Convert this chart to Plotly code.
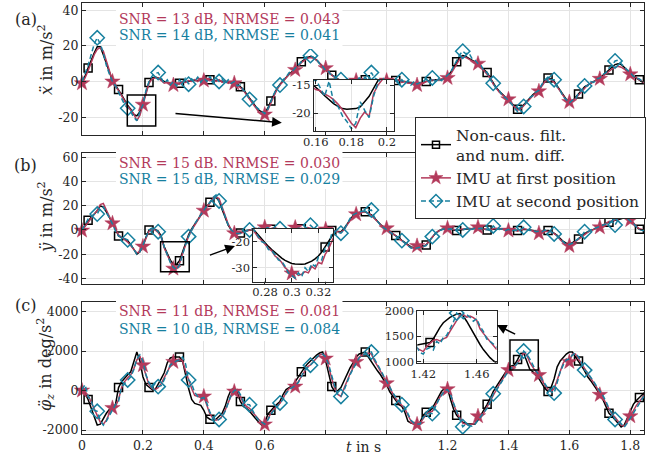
import plotly.graph_objects as go

# ---------------- data ----------------
t = [round(i * 0.01, 2) for i in range(186)]

black_a = [0, 3, 7.5, 12, 16, 19.5, 19.5, 15, 10, 5,
           0.5, -2, -4.5, -7.5, -10.5, -13.5, -15.5, -18.5, -19.3, -17,
           -12, -6, -0.5, 2, 2.5, 2, 1, 0, -0.5, -1,
           -1.5, -1.5, -1, -0.5, 0, 0, 0.5, 0.5, 0.5, 1,
           1, 1, 1, 1, 0.5, 0.5, 0, 0, -0.5, -0.5,
           -0.5, -1.5, -3, -4.5, -7, -9.5, -12, -14, -16, -17,
           -17.5, -15, -11, -7, -4, -1.5, 0.5, 2.5, 4, 5.5,
           7, 9, 11, 12.5, 13.5, 14, 13.5, 12, 10, 8,
           6.5, 5, 3.5, 2.5, 1.5, 0.5, 0, 0, 0.5, 0.5,
           0.5, 0.5, 1, 1, 1, 0.5, 0.5, 0, 0, 0,
           0, 0, 0.5, 0.5, 0.5, 0, 0, -0.5, -0.5, -1,
           -1, -1, -0.5, 0, 0.5, 0.5, 1, 1, 1, 1.5,
           3, 5, 8, 11, 13.5, 14.5, 14, 13, 12, 11,
           9.5, 8, 6.5, 5, 2, -1, -3.5, -5.5, -7, -8.5,
           -10, -12, -14, -15.5, -15, -13, -11, -9, -7.5, -6,
           -4.5, -2, 0.5, 2, 1.5, 0, -2.5, -5, -7.5, -10,
           -11, -11, -9, -7, -5, -3, -2, -1, 0, 1,
           2, 3.5, 5, 6.5, 8, 9.5, 10, 9.5, 8, 6,
           4, 3, 2, 1, 0, -1.5]
red_a = [-1, 2, 6, 11, 15, 18, 19, 17, 12, 6,
         0, -3, -5, -8, -11, -14, -16, -18, -22, -19,
         -13, -7, -1, 1.5, 2, 2, 0.5, -1, -0.5, -1.5,
         -2, -1, -1.5, 0, -0.5, 0.5, 0, 1, 0, 1.5,
         0.5, 1.5, 0.5, 1, 0, 1, -0.5, 0.5, -1, 0,
         -1, -2, -3.5, -5, -7.5, -10, -12.5, -15, -17, -18,
         -18.5, -16, -12, -8, -4.5, -2, 0, 2, 4, 5,
         6.5, 8.5, 10.5, 12, 13, 13.5, 13, 12, 10.5, 9,
         7.5, 5.5, 3.5, 2, 1, 0, -0.5, 0, 0.5, 0,
         0.5, 1, 0.5, 1.5, 0.5, 1, 0, 0.5, -0.5, 0,
         0.5, -0.5, 0.5, 0, 1, -0.5, 0, -1, -1, -1.5,
         -2, -1, -1, 0, 0, 1, 0.5, 1, 1.5, 1,
         2, 4, 7, 10, 12.5, 14, 13.5, 12.5, 11.5, 10.5,
         10, 8, 6, 4.5, 2, -1.5, -4, -6, -7.5, -9,
         -10, -12.5, -14.5, -16, -15.5, -13.5, -11.5, -9.5, -8, -6.5,
         -5.5, -2.5, 0, 1.5, 1, -0.5, -3, -5.5, -8, -10.5,
         -11.5, -11, -9.5, -7.5, -5.5, -3.5, -2, -1, 0, 1,
         1.5, 3, 4.5, 6, 7, 8, 8.5, 8, 7, 5.5,
         4, 3, 2, 1, 0, -1.5]
teal_a = [0, 4, 9, 15, 21, 24.5, 21, 16, 9, 4,
          0, -2.5, -6, -10, -13, -15, -17, -20, -22, -17,
          -13, -5, 0, 3, 4.5, 5, 2, -1, 1, -2,
          0, -2.5, 1, -1, 2, -1.5, 1.5, 0, 2.5, -0.5,
          2, 0, 3, -1, 2, 0, 1.5, -1.5, 1, -1,
          0, -2.5, -2, -5, -6, -10, -11, -14, -15.5, -17,
          -18, -15.5, -11, -7, -3.5, -2, 1, 2.5, 5, 5.5,
          7.5, 9, 11, 13, 14, 14.5, 13.5, 12.5, 10, 8.5,
          6, 5.5, 3, 3, 1, 1, 0, 1.5, -0.5, 1,
          0, 2, 0.5, 2.5, 0, 5, 2, 1, -0.5, 1.5,
          -1, 1.5, 0, 2, -1, 1, -1, 0.5, -2, 0,
          -1.5, -0.5, 0, 1.5, -0.5, 2, 0, 1.5, 0.5, 2,
          3, 5, 8.5, 12, 15, 17, 15.5, 16, 13, 12,
          10, 9, 6, 5, 1, -1, -4, -5, -8, -9,
          -10.5, -12.5, -15, -17, -14, -14, -11, -9, -8, -6,
          -5, -1.5, 1, 2.5, 1, 1, -3, -5, -8.5, -10,
          -12, -10.5, -10, -6.5, -5, -2.5, -2.5, 0, -0.5, 1.5,
          2, 4, 5, 7.5, 9, 11.5, 12, 10, 8, 6.5,
          5, 3, 2, 1.5, 0, -1]

black_b = [0, 3.5, 8, 10.5, 13, 16, 20, 19, 15, 10.5,
           6, 1, -5, -6.5, -7.5, -9, -12, -16, -20, -18,
           -13, -6, 0, 1, 0.5, -1, -5, -14, -20, -25,
           -28.4, -28.6, -25.5, -18, -10, -4, 1, 5, 9, 12.5,
           16, 19.5, 23, 26, 27, 24, 17, 10, 4, 0,
           -2, -3, -2.5, -1.5, -0.5, 0, 0.5, 0.5, 1, 1,
           1, 1, 0.5, 0.5, 0.5, 0.5, 0, 0, 0, 0.5,
           0.5, 0.5, 1, 1, 1, 1, 1, 0.5, 0.5, 0.5,
           0, 0, -0.5, -1, -1, -1.5, 1, 5, 9, 12,
           13.5, 14.5, 15, 15, 14, 12.5, 10, 7, 4.5, 2.5,
           1, -1, -3, -4.5, -6.5, -8.5, -10.5, -12.5, -14, -14.5,
           -14.5, -14, -13.5, -12.5, -9, -5.5, -3, -1, 0.5, 1,
           1, 0.5, 0, -0.5, 0, 0.5, 0.5, 1, 1, 1.5,
           1.5, 1, 0.5, 0, 0, 0.5, 1, 1, 0.5, 0,
           0, -0.5, -0.5, -0.5, 0, 0.5, 0.5, 0, -0.5, -1,
           -1.5, -1, -0.5, -0.5, -1, -2.5, -4.5, -7, -9.5, -11,
           -11.5, -10.5, -9, -7.5, -5, -3, -1.5, -0.5, 0.5, 1.5,
           2.5, 4, 5.5, 6.5, 7, 8, 8.5, 9.5, 10, 9.5,
           8, 5.5, 2.5, 0.5, 0, -0.5]
red_b = [-0.5, 3, 7, 10, 13, 16, 21, 22, 17, 11,
         5.5, 0, -4, -6, -8, -10, -13, -16, -19, -18,
         -13.7, -7, -1, 0.5, 0, -2, -6, -15, -21, -27,
         -32, -32, -28, -20, -12, -5, 0, 4, 9, 12,
         16, 19, 22.5, 26, 27.5, 26, 19, 11, 5, 0,
         -2.7, -3.5, -3, -2, -1, 0, 1, 1.5, 1, 1.5,
         2.2, 1.5, 1, 2, 1, 0.5, 1, 0, 0.5, 1,
         2, 1, 1.5, 1, 2, 1.5, 1, 0.5, 1, 0,
         0.5, -0.5, 0, -1, -1.5, -2, 0, 4, 8, 11,
         13, 14, 15.5, 15, 14, 12, 9.5, 6.5, 4, 2,
         1.4, -1, -3, -5, -7, -9, -11, -13, -14.5, -15,
         -13.2, -14, -14, -12, -9, -6, -3, -1, 0.5, 1.5,
         1.4, 1, 0, 0, 0.5, 1, 1, 1.5, 1, 2,
         2.2, 1.5, 0.5, 0.5, 0, 1, 1.5, 1, 0.5, 0,
         -0.5, -0.5, 0, -1, 0, 1, 0.5, 0, -1, -1.5,
         -2.7, -1.5, -1, -1, -1.5, -3, -5, -8, -10.5, -12,
         -13.2, -11.5, -9.5, -8, -5.5, -3.5, -2, -0.5, 0.5, 1.5,
         2.2, 4, 5.5, 7, 7.5, 8.5, 9, 10, 10.5, 9.5,
         8.2, 6, 3, 1, 0, -0.5]
teal_b = [0, 4, 9, 11, 13, 13.2, 18, 19, 15, 10,
          5, -1, -5, -6, -7, -8.2, -12, -16, -20, -18,
          -13, -6, 0, 1.5, 1, -1.4, -6, -14, -21, -27,
          -31, -33, -29, -20, -12, -5.5, 0, 5, 9, 13,
          17, 20, 23, 27, 29, 24, 18, 11, 4, 0,
          -2, -3, -3, -1.5, -0.5, 0, 1, 0, 1.5, 0.5,
          1, 2, 0, 1, 0.5, 1, 0, 1, -0.5, 1,
          0.5, 1.5, 1, 0.5, 2, 4, 1.5, 1, 0, 1,
          0, 0.5, -1, -1, -2, -2.7, 0, 5, 9.5, 12.5,
          14, 15, 15.5, 16, 16.5, 16.5, 10.5, 7, 4, 2,
          0.5, -1.5, -3.5, -5, -7, -8.8, -11, -13, -15, -15.5,
          -15, -14.5, -14, -13, -9, -5.5, -3, -1, 0, 1,
          0.5, 1, 0, -0.5, 0.5, 0, 1, 1.5, 0.5, 1.5,
          1, 1.5, 0, 0.5, -0.5, 3.3, 1, 0.5, 1, -0.5,
          0.5, -1, 0, -0.5, 0.5, 2.2, 0.5, -0.5, 0, -1.5,
          -1, -1.5, 0, -1, -1.5, -3.3, -5, -7.5, -10, -12,
          -12, -11, -9, -7, -5, -1.4, -1.5, 0, 1, 2,
          2.5, 4, 5, 6.5, 7, 4.1, 8.5, 10, 10.5, 9.5,
          7.5, 5.5, 2.5, 0.5, -0.5, -0.5]

black_c = [0, -150, -450, -900, -1400, -1750, -1700, -1400, -1150, -950,
           -900, -700, 150, 450, 650, 800, 950, 1500, 1950, 1500,
           700, 300, 150, 50, 50, 300, 600, 900, 1400, 1650,
           1700, 1700, 1700, 1500, 700, 100, -450, -650, -700, -750,
           -1000, -1350, -1450, -1500, -1450, -1300, -1150, -800, -300, 50,
           100, -100, -550, -800, -900, -1050, -1250, -1400, -1600, -1750,
           -1650, -1200, -1000, -850, -700, -550, -200, 50, 150, 250,
           450, 700, 950, 1150, 1350, 1500, 1700, 1800, 1900, 1950,
           1500, 900, 200, -50, 0, 150, 500, 850, 1150, 1400,
           1700, 1850, 1900, 1950, 1700, 1450, 1250, 1000, 800, 550,
           300, -50, -300, -500, -700, -800, -1100, -1550, -1650, -1700,
           -1720, -1600, -1250, -1100, -1050, -900, -600, -300, -50, 100,
           100, -450, -950, -1250, -1450, -1600, -1650, -1700, -1700, -1700,
           -1500, -1250, -950, -700, -400, -50, 200, 450, 700, 950,
           1150, 1250, 1300, 1570, 1875, 1900, 1450, 1080, 950, 800,
           600, 350, 100, -50, 150, 600, 1200, 1500, 1700, 1850,
           1950, 1950, 1700, 1500, 1250, 1000, 700, 500, 300, 50,
           -200, -450, -800, -1150, -1300, -1450, -1650, -1850, -1750, -1400,
           -1000, -700, -500, -350, -150, -50]
red_c = [0, -50, -250, -600, -950, -1250, -1600, -1700, -1500, -1150,
         -880, -800, -450, 150, 450, 650, 800, 1100, 1550, 1750,
         1285, 700, 300, 100, 50, 150, 350, 650, 950, 1250,
         1450, 1550, 1600, 1500, 1000, 500, 100, -250, -300, -350,
         -300, -700, -1200, -1400, -1500, -1450, -1300, -1000, -600, -250,
         -50, 50, -300, -650, -800, -900, -1100, -1300, -1450, -1600,
         -1715, -1450, -1150, -950, -800, -650, -400, -100, 100, 200,
         200, 450, 750, 950, 1200, 1300, 1500, 1650, 1800, 1850,
         1620, 1200, 600, 100, -200, -300, 100, 500, 850, 1150,
         1450, 1700, 1800, 1850, 1900, 1850, 1500, 1250, 1000, 700,
         370, 100, -150, -400, -600, -750, -900, -1250, -1550, -1700,
         -1715, -1650, -1400, -1200, -1100, -1050, -750, -450, -200, -50,
         70, -150, -700, -1100, -1400, -1650, -1700, -1750, -1700, -1650,
         -1300, -1350, -1100, -850, -550, -250, 50, 300, 550, 800,
         1035, 1200, 1200, 1420, 1600, 1930, 1820, 1420, 1150, 950,
         785, 500, 250, 50, -50, 100, 500, 1000, 1400, 1600,
         1450, 1850, 1850, 1600, 1350, 1100, 850, 650, 400, 150,
         -215, -350, -650, -950, -1200, -1350, -1550, -1750, -1800, -1600,
         -1300, -1000, -750, -550, -350, -150]
teal_c = [50, 300, -300, -500, -1000, -1050, -1500, -1750, -1550, -1250,
          -1000, -700, -550, 200, 350, 535, 700, 1050, 1600, 1800,
          1500, 800, 400, 150, 350, 200, 250, 550, 900, 1300,
          1400, 1500, 1550, 1700, 1350, 535, 350, -100, -300, -400,
          -350, -650, -1100, -1350, -1550, -1465, -1350, -1050, -600, -200,
          0, 50, -200, -550, -700, -715, -1000, -1300, -1500, -1600,
          -1700, -1500, -1200, -1000, -850, -630, -450, -150, 50, 150,
          250, 400, 700, 1000, 1150, 1285, 1450, 1700, 1800, 1850,
          1700, 1300, 700, 200, -200, -300, 0, 450, 800, 1100,
          1400, 1650, 1800, 1850, 1950, 1950, 1600, 1350, 1050, 750,
          450, 150, -100, -350, -550, -715, -850, -1200, -1500, -1650,
          -1700, -1700, -1350, -1250, -1150, -1165, -800, -500, -250, 0,
          50, -200, -650, -1050, -1350, -1830, -1700, -1750, -1800, -1700,
          -1500, -1350, -1150, -900, -600, -165, 0, 250, 500, 750,
          1000, 1150, 1200, 1400, 1550, 2000, 1850, 1600, 1300, 1000,
          800, 550, 300, 100, -50, -130, 400, 950, 1300, 1550,
          1600, 1800, 1900, 1700, 1400, 1035, 900, 700, 450, 200,
          0, -250, -550, -900, -1150, -1465, -1500, -1700, -1850, -1650,
          -1400, -1100, -850, -600, -400, -200]

# inset data (finer resolution)
t_ins_a = [round(0.155 + i * 0.0025, 4) for i in range(21)]
black_ins_a = [-14.0, -14.7, -15.3, -16.1, -16.9, -17.6, -18.3, -18.8, -19.2, -19.3, -19.3,
               -19.2, -18.9, -18.0, -17.0, -15.6, -14.0, -12.5, -11.0, -9.8, -8.5]
red_ins_a = [-14.5, -15.3, -15.8, -16.0, -16.6, -17.0, -17.6, -18.4, -19.4, -20.6, -21.8,
             -22.6, -20.9, -19.8, -20.6, -16.5, -15.0, -14.0, -12.8, -11.5, -10.0]
teal_ins_a = [-13.8, -14.5, -14.0, -15.5, -17.0, -14.3, -18.0, -18.8, -20.5, -21.5, -22.8,
              -21.8, -18.0, -19.5, -20.8, -17.0, -14.5, -13.5, -12.0, -11.0, -9.0]

t_ins_b = [round(0.27 + i * 0.0025, 4) for i in range(26)]
black_ins_b = [-14.5, -16, -17.5, -19, -20.5, -21.8, -23, -24.2, -25.3, -26.3, -27.2, -27.9, -28.4,
               -28.6, -28.7, -28.7, -28.6, -28.2, -27.5, -26.6, -25.5, -24, -22, -20, -18, -16]
red_ins_b = [-15, -16.5, -18.5, -19.5, -21, -22.5, -23.5, -25.5, -26.5, -28, -30, -31, -32.2,
             -31.8, -33, -32.5, -31.5, -32, -29.5, -30.5, -28, -28.5, -25, -23, -19.5, -17]
teal_ins_b = [-14.8, -16, -18, -20, -20.5, -23, -23.5, -25, -27, -27.5, -29.5, -32, -33,
              -34, -32, -33.5, -30, -31.5, -28.5, -29.5, -26, -27, -22.5, -21.5, -17, -16]

t_ins_c = [round(1.415 + i * 0.0025, 4) for i in range(25)]
black_ins_c = [1330, 1340, 1350, 1360, 1380, 1450, 1570, 1680, 1770, 1830, 1875, 1910, 1940,
               1950, 1900, 1800, 1680, 1560, 1450, 1340, 1240, 1150, 1080, 1020, 970]
red_ins_c = [1270, 1230, 1200, 1300, 1370, 1420, 1440, 1410, 1450, 1480, 1600, 1700, 1800,
             1920, 1930, 1880, 1900, 1870, 1820, 1650, 1560, 1480, 1420, 1330, 1240]
teal_ins_c = [1300, 1180, 1150, 1250, 1280, 1230, 1400, 1350, 1480, 1520, 1650, 1780, 1960,
              1900, 1850, 1930, 1880, 1800, 1850, 1700, 1600, 1450, 1400, 1350, 1280]

snr_texts = [("SNR = 13 dB, NRMSE = 0.043", "SNR = 14 dB, NRMSE = 0.041"),
             ("SNR = 15 dB. NRMSE = 0.030", "SNR = 15 dB, NRMSE = 0.029"),
             ("SNR = 11 dB, NRMSE = 0.081", "SNR = 10 dB, NRMSE = 0.084")]
legend_names = ["Non-caus. filt.<br>and num. diff.", "IMU at first position", "IMU at second position"]
x_major = [0, 0.2, 0.4, 0.6, 1.2, 1.4, 1.6, 1.8]
x_minor = [0.8, 1.0]

# marker positions (sample indices)
star_idx = list(range(0, 186, 10))
diamond_idx = list(range(5, 186, 10))
square_idx = [2 + 10 * k for k in range(9)] + [3 + 10 * k for k in range(9, 19)]

# ---------------- style ----------------
RED = "#B33A5B"
TEAL = "#17809F"
BLACK = "#000000"
AX = "#262626"
GRID = "#e4e4e4"
FONT = "DejaVu Serif"

fig = go.Figure()

STY = {
    "k": dict(color=BLACK, dash="solid", symbol="square-open", size=8, mlw=1.5),
    "r": dict(color=RED, dash="solid", symbol="star", size=11.5, mlw=0.5),
    "b": dict(color=TEAL, dash="5px,3px", symbol="diamond-open", size=11, mlw=1.5),
}


def add_set(tt, series, idxs, xa, ya, clip):
    for key, vals, idx in zip(["k", "r", "b"], series, idxs):
        s = STY[key]
        fig.add_trace(go.Scatter(x=tt, y=vals, xaxis=xa, yaxis=ya, mode="lines",
                                 line=dict(color=s["color"], width=1.5, dash=s["dash"]),
                                 showlegend=False, hoverinfo="skip"))
        if idx:
            fig.add_trace(go.Scatter(x=[tt[i] for i in idx], y=[vals[i] for i in idx],
                                     xaxis=xa, yaxis=ya, mode="markers", cliponaxis=clip,
                                     marker=dict(symbol=s["symbol"], size=s["size"], color=s["color"],
                                                 line=dict(color=s["color"], width=s["mlw"])),
                                     showlegend=False, hoverinfo="skip"))


main_idx = [square_idx, star_idx, diamond_idx]
add_set(t, [black_a, red_a, teal_a], main_idx, "x", "y", False)
add_set(t, [black_b, red_b, teal_b], main_idx, "x2", "y2", False)
add_set(t, [black_c, red_c, teal_c], main_idx, "x3", "y3", False)
add_set(t_ins_a, [black_ins_a, red_ins_a, teal_ins_a], [[], [], []], "x4", "y4", True)
add_set(t_ins_b, [black_ins_b, red_ins_b, teal_ins_b], [[22], [12], []], "x5", "y5", True)
add_set(t_ins_c, [black_ins_c, red_ins_c, teal_ins_c], [[4], [], [12]], "x6", "y6", True)

# legend entries
for key, name in zip(["k", "r", "b"], legend_names):
    s = STY[key]
    fig.add_trace(go.Scatter(x=[None], y=[None], xaxis="x", yaxis="y", mode="lines+markers", name=name,
                             line=dict(color=s["color"], width=1.5, dash=s["dash"]),
                             marker=dict(symbol=s["symbol"], size=s["size"] - 1, color=s["color"],
                                         line=dict(color=s["color"], width=s["mlw"]))))


def ax_style(fs=12.5):
    return dict(showline=True, linecolor=AX, linewidth=1, mirror="ticks", ticks="inside", ticklen=4,
                tickcolor=AX, tickwidth=1, showgrid=True, gridcolor=GRID, gridwidth=1, zeroline=False,
                tickfont=dict(family=FONT, size=fs, color=AX), automargin=False)


def txt(v):
    return "%g" % v


lay = {}
main_y = [([0.6937, 1.0], [-30, 44], [-20, 0, 20, 40]),
          ([0.3473, 0.6527], [-45, 64], [-40, -20, 0, 20, 40, 60]),
          ([0.0, 0.307], [-2200, 4500], [-2000, 0, 2000, 4000])]
for i, (dom, rng, ticks) in enumerate(main_y):
    n = "" if i == 0 else str(i + 1)
    xa = ax_style()
    xa.update(domain=[0, 1], range=[0, 1.845], anchor="y" + n, tickvals=x_major,
              ticktext=[txt(v) for v in x_major], showticklabels=(i == 2),
              minor=dict(tickvals=x_minor, ticks="inside", ticklen=4, tickcolor=AX,
                         showgrid=True, gridcolor=GRID, gridwidth=1))
    ya = ax_style()
    ya.update(domain=dom, range=rng, anchor="x" + n, tickvals=ticks, ticktext=[txt(v) for v in ticks])
    lay["xaxis" + n] = xa
    lay["yaxis" + n] = ya

insets = [(4, [0.4128, 0.5552], [0.703, 0.8213], [0.159, 0.204], [-23.2, -14.1],
           [0.16, 0.18, 0.2], [-20, -15]),
          (5, [0.3048, 0.4472], [0.3534, 0.4756], [0.2712, 0.3312], [-35.4, -15.1],
           [0.28, 0.3, 0.32], [-30, -20]),
          (6, [0.5966, 0.7379], [0.1654, 0.2861], [1.4155, 1.475], [980, 2008],
           [1.42, 1.46], [1000, 1500, 2000])]
for n, xd, yd, xr, yr, xt, yt in insets:
    xa = ax_style(11.5)
    xa.update(domain=xd, range=xr, anchor="y%d" % n, tickvals=xt, ticktext=[txt(v) for v in xt])
    ya = ax_style(11.5)
    ya.update(domain=yd, range=yr, anchor="x%d" % n, tickvals=yt, ticktext=[txt(v) for v in yt])
    lay["xaxis%d" % n] = xa
    lay["yaxis%d" % n] = ya

fig.update_layout(**lay)

shapes = [
    dict(type="rect", xref="x", yref="y", x0=0.1487, x1=0.242, y0=-24.9, y1=-7.6,
         line=dict(color=BLACK, width=1.5)),
    dict(type="rect", xref="x2", yref="y2", x0=0.258, x1=0.352, y0=-34.5, y1=-9.7,
         line=dict(color=BLACK, width=1.5)),
    dict(type="rect", xref="x3", yref="y3", x0=1.405, x1=1.498, y0=1043, y1=2562,
         line=dict(color=BLACK, width=1.5)),
]
for (y0, y1) in [(0.8933, 0.991), (0.5684, 0.6613), (0.2158, 0.3132)]:
    shapes.append(dict(type="rect", xref="paper", yref="paper", x0=0.0605, x1=0.4635, y0=y0, y1=y1,
                       fillcolor="white", line=dict(width=0), layer="above"))

ann = []
snr_y = [(0.964, 0.9258), (0.6299, 0.5916), (0.2865, 0.2436)]
for (rt, tt_), (yr_, yt_) in zip(snr_texts, snr_y):
    ann.append(dict(x=0.262, y=yr_, xref="paper", yref="paper", text=rt, showarrow=False,
                    font=dict(family=FONT, size=14, color=RED), xanchor="center", yanchor="middle"))
    ann.append(dict(x=0.262, y=yt_, xref="paper", yref="paper", text=tt_, showarrow=False,
                    font=dict(family=FONT, size=14, color=TEAL), xanchor="center", yanchor="middle"))

for lab, yy in [("(a)", 0.9606), ("(b)", 0.6241), ("(c)", 0.2970)]:
    ann.append(dict(x=-0.1005, y=yy, xref="paper", yref="paper", text=lab, showarrow=False,
                    font=dict(family=FONT, size=16, color=AX), xanchor="center", yanchor="middle"))

ytitles = [("<i>ẍ</i> in m/s<sup>2</sup>", 0.868),
           ("<i>ÿ</i> in m/s<sup>2</sup>", 0.504),
           ("<i>φ̈</i><sub><i>z</i></sub> in deg/s<sup>2</sup>", 0.1601)]
for txt_, yy in ytitles:
    ann.append(dict(x=-0.064, y=yy, xref="paper", yref="paper", text=txt_, showarrow=False,
                    textangle=-90, font=dict(family=FONT, size=16, color=AX),
                    xanchor="center", yanchor="middle"))

ann.append(dict(x=0.5, y=-0.030, xref="paper", yref="paper", text="<i>t</i> in s", showarrow=False,
                font=dict(family=FONT, size=14, color=AX), xanchor="center", yanchor="middle"))

arrows = [("x", "y", 0.656, -23.1, 0.302, -17.8),
          ("x2", "y2", 0.502, -13.3, 0.415, -21.3),
          ("x3", "y3", 1.362, 3321, 1.427, 2815)]
for xr_, yr2, hx, hy, tx, ty in arrows:
    ann.append(dict(x=hx, y=hy, xref=xr_, yref=yr2, ax=tx, ay=ty, axref=xr_, ayref=yr2, text="",
                    showarrow=True, arrowhead=2, arrowsize=1.3, arrowwidth=1.5, arrowcolor=BLACK,
                    standoff=0))

fig.update_layout(
    width=669, height=455,
    margin=dict(l=82, r=25, t=3, b=21, autoexpand=False),
    paper_bgcolor="white", plot_bgcolor="white",
    font=dict(family=FONT, size=13, color=AX),
    shapes=shapes, annotations=ann,
    showlegend=True,
    legend=dict(x=0.5925, y=0.7355, xanchor="left", yanchor="top", bgcolor="white",
                bordercolor=AX, borderwidth=1, font=dict(family=FONT, size=15.5, color=AX),
                tracegroupgap=0, itemwidth=30),
)

fig.write_html("out.html", config={"displayModeBar": False},
               post_script="document.body.style.margin='0px';")
